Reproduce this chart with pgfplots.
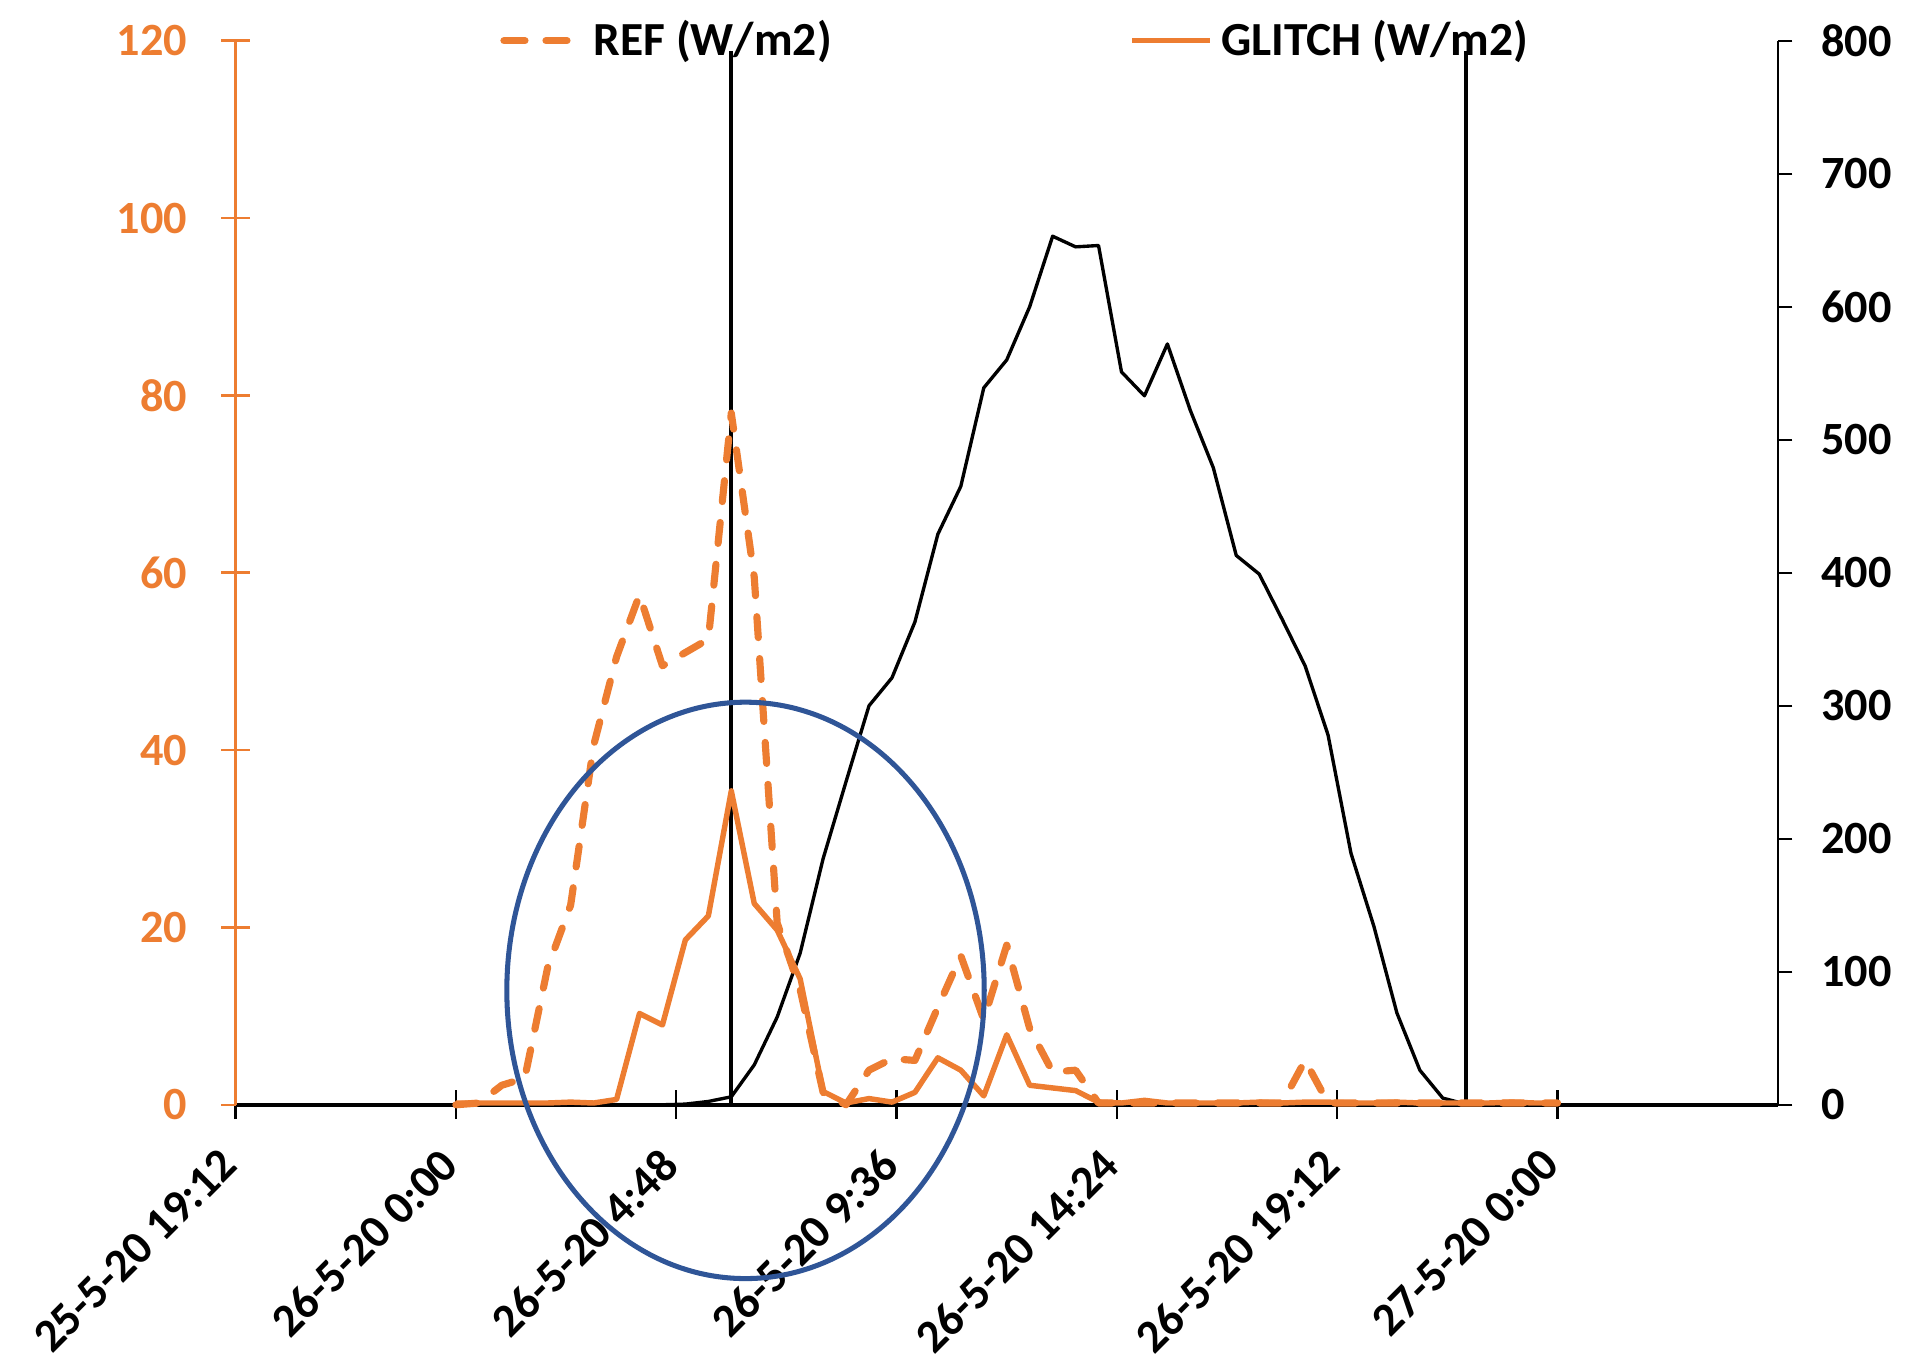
\documentclass[border=0pt]{standalone}
\usepackage{fontspec}
\setmainfont{Carlito}
\usepackage{pgfplots}
\usepackage{pgfplotstable}
\pgfplotsset{compat=1.18}
\definecolor{xlorange}{HTML}{ED7D31}
\definecolor{xlblue}{HTML}{2F5597}

% hours from 26-5-20 0:00, half-hour steps
\pgfplotstableread{
h ref glitch
0.0 0.0 0.2
0.5 0.2 0.2
1.0 2.2 0.2
1.5 3.0 0.2
2.0 15.5 0.2
2.5 22.5 0.3
3.0 40.5 0.2
3.5 50.5 0.6
4.0 57.5 10.3
4.5 49.5 9.0
5.0 51.0 18.6
5.5 52.5 21.3
6.0 78.0 35.4
6.5 59.5 22.7
7.0 20.5 19.7
7.5 13.0 14.2
8.0 1.4 1.5
8.5 0.0 0.2
9.0 3.9 0.7
9.5 5.2 0.3
10.0 5.0 1.4
10.5 11.0 5.3
11.0 16.8 3.9
11.5 9.6 1.0
12.0 18.0 7.9
12.5 8.6 2.2
13.0 3.7 1.9
13.5 3.9 1.6
14.0 0.2 0.3
14.5 0.2 0.2
15.0 0.2 0.5
15.5 0.2 0.2
16.0 0.2 0.2
16.5 0.2 0.2
17.0 0.2 0.2
17.5 0.2 0.3
18.0 0.2 0.2
18.5 5.0 0.3
19.0 0.2 0.3
19.5 0.2 0.2
20.0 0.2 0.2
20.5 0.2 0.3
21.0 0.2 0.2
21.5 0.2 0.2
22.0 0.2 0.2
22.5 0.2 0.2
23.0 0.2 0.3
23.5 0.2 0.2
24.0 0.2 0.2
}\orangedata

\pgfplotstableread{
h irr
0.0 0
1.0 0
2.0 0
3.0 0
4.0 0
4.5 0
5.0 0.5
5.5 2.5
6.0 6
6.5 30
7.0 66
7.5 114
8.0 185
8.5 243
9.0 300
9.5 321
10.0 363
10.5 429
11.0 465
11.5 539
12.0 560
12.5 600
13.0 653
13.5 645
14.0 646
14.5 551
15.0 533
15.5 572
16.0 522
16.5 479
17.0 413
17.5 399
18.0 365
18.5 330
19.0 278
19.5 189
20.0 134
20.5 69
21.0 26
21.5 5
22.0 0.5
22.5 0
23.0 0
24.0 0
}\blackdata

\begin{document}
\begin{tikzpicture}
\pgfplotsset{
  base/.style={
    scale only axis, width=12.9cm, height=8.90cm,
    xmin=-4.8, xmax=28.8,
    tick label style={font=\bfseries\fontsize{11}{13}\selectfont},
    /pgf/number format/assume math mode=true,
  }
}
% right axis: irradiance (black)
\begin{axis}[base,
  ymin=0, ymax=800, ytick={0,100,...,800},
  axis y line*=right, axis x line=none,
  tick align=outside, major tick length=0.12cm,
  y axis line style={black, line width=0.5pt, -},
  ytick style={black, line width=0.5pt},
  yticklabel style={xshift=0.12cm},
]
\addplot[black, line width=0.8pt, line join=round] table[x=h, y=irr] {\blackdata};
\addplot[black, line width=0.95pt] coordinates {(6,0) (6,792)};
\addplot[black, line width=0.95pt] coordinates {(22,0) (22,792)};
\end{axis}

% left axis: REF and GLITCH (orange)
\begin{axis}[base,
  ymin=0, ymax=120, ytick={0,20,...,120},
  axis x line*=bottom, axis y line*=left,
  tick align=center, major tick length=0.24cm,
  x axis line style={black, line width=1pt, -},
  y axis line style={xlorange, line width=0.6pt, -},
  xtick={-4.8,0,4.8,9.6,14.4,19.2,24},
  xticklabels={25-5-20 19:12, 26-5-20 0:00, 26-5-20 4:48, 26-5-20 9:36, 26-5-20 14:24, 26-5-20 19:12, 27-5-20 0:00},
  xtick style={black, line width=0.6pt},
  ytick style={xlorange, line width=0.6pt},
  xticklabel style={rotate=45, anchor=north east, text=black,
    font=\bfseries\fontsize{11.1}{13}\selectfont, xshift=-0.14cm, yshift=0.07cm},
  yticklabel style={text=xlorange, xshift=-0.16cm},
  clip=false,
  legend style={at={(0.163,1.0)}, anchor=west, draw=none, fill=none,
    font=\bfseries\fontsize{11.3}{13}\selectfont,
    /tikz/every even column/.append style={column sep=2.42cm}},
  legend columns=2,
  legend image code/.code={\draw[#1] (0cm,0cm) -- (0.65cm,0cm);},
]
\addplot[xlorange, line width=1.7pt, dash pattern=on 5pt off 5pt, line cap=round, line join=round]
  table[x=h, y=ref] {\orangedata};
\addlegendentry{REF (W/m2)}
\addplot[xlorange, line width=1.3pt, line join=round]
  table[x=h, y=glitch] {\orangedata};
\addlegendentry{GLITCH (W/m2)}
\draw[xlblue, line width=1.2pt] (axis cs:6.31,12.9) ellipse [x radius=5.2, y radius=32.5];
\coordinate (sw) at (rel axis cs:0,0);
\coordinate (ne) at (rel axis cs:1,1);
\end{axis}
\pgfresetboundingbox
\path ([shift={(-1.97cm,-2.15cm)}]sw) rectangle ([shift={(1.13cm,0.34cm)}]ne);
\end{tikzpicture}
\end{document}
